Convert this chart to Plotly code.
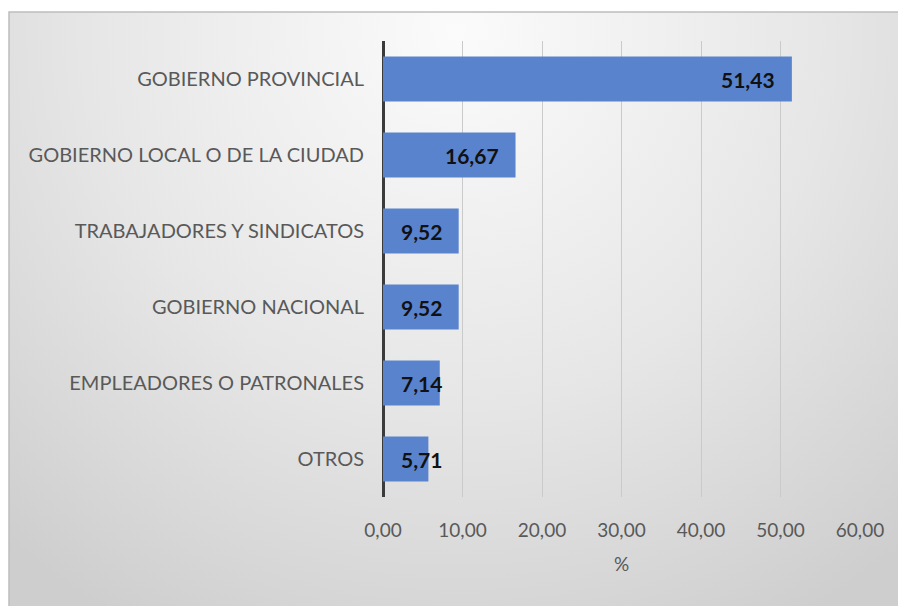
import base64
import plotly.graph_objects as go

categories = [
    "GOBIERNO PROVINCIAL",
    "GOBIERNO LOCAL O DE LA CIUDAD",
    "TRABAJADORES Y SINDICATOS",
    "GOBIERNO NACIONAL",
    "EMPLEADORES O PATRONALES",
    "OTROS",
]
values = [51.43, 16.67, 9.52, 9.52, 7.14, 5.71]
x_ticks = [0, 10, 20, 30, 40, 50, 60]
x_title = "%"

# page body has an 8px margin, so the figure is drawn 8px in from the window corner
W, H = 898, 598
L, R, T, B = 375, 46, 33, 109
pw, ph = W - L - R, H - T - B
# chart box (outer frame) in figure pixels
bx0, by0, bx1, by1 = 1, 4, 898, 598

svg = f'''<svg xmlns="http://www.w3.org/2000/svg" width="{bx1-bx0}" height="{by1-by0}" preserveAspectRatio="none">
<defs><radialGradient id="g" gradientUnits="userSpaceOnUse" cx="{(bx1-bx0)/2}" cy="20" r="680">
<stop offset="0" stop-color="#fbfbfb"/><stop offset="0.55" stop-color="#e6e6e6"/><stop offset="1" stop-color="#cecece"/></radialGradient></defs>
<rect width="100%" height="100%" fill="url(#g)"/></svg>'''
src = "data:image/svg+xml;base64," + base64.b64encode(svg.encode()).decode()

def px_to_paper_x(px):
    return (px - L) / pw

def px_to_paper_y(py):
    return (H - B - py) / ph

fig = go.Figure()
fig.add_trace(go.Bar(
    y=categories, x=values, orientation="h",
    marker=dict(color="#5a83cd", line=dict(width=0)),
    hoverinfo="x+y",
))

label_font = dict(family="Lato", size=21, color="#111111", weight="bold")
annotations = []
for c, v in zip(categories, values):
    label = f"{v:.2f}".replace(".", ",")
    if v >= 9:
        annotations.append(dict(x=v, y=c, xref="x", yref="y", text=label, showarrow=False,
                                xanchor="right", xshift=-15, yanchor="middle", font=label_font))
    else:
        annotations.append(dict(x=0, y=c, xref="x", yref="y", text=label, showarrow=False,
                                xanchor="left", xshift=16, yanchor="middle", font=label_font))

fig.update_layout(
    width=W, height=H,
    margin=dict(l=L, r=R, t=T, b=B),
    paper_bgcolor="white",
    plot_bgcolor="rgba(0,0,0,0)",
    separators=",.",
    bargap=0.41,
    showlegend=False,
    font=dict(family="Lato", color="#595959"),
    annotations=annotations,
    images=[dict(source=src, xref="paper", yref="paper",
                 x=px_to_paper_x(bx0), y=px_to_paper_y(by0),
                 sizex=(bx1 - bx0) / pw, sizey=(by1 - by0) / ph,
                 xanchor="left", yanchor="top", sizing="stretch", layer="below")],
    shapes=[dict(type="rect", xref="paper", yref="paper",
                 x0=px_to_paper_x(bx0), x1=px_to_paper_x(bx1 + 2),
                 y0=px_to_paper_y(by1 + 2), y1=px_to_paper_y(by0),
                 line=dict(color="#bdbdbd", width=1.5), fillcolor="rgba(0,0,0,0)", layer="below")],
    xaxis=dict(
        range=[0, 60], tickvals=x_ticks, tickformat=".2f",
        showgrid=True, gridcolor="#cacaca", gridwidth=1.3,
        zeroline=True, zerolinecolor="#3b3b3b", zerolinewidth=3,
        showline=False, ticks="", ticklabelstandoff=20,
        tickfont=dict(family="Lato", size=19, color="#595959"),
        title=dict(text=x_title, font=dict(family="Lato", size=19, color="#595959"), standoff=17),
        fixedrange=True,
    ),
    yaxis=dict(
        autorange="reversed", showgrid=False, showline=False, ticks="",
        ticklabelstandoff=18,
        tickfont=dict(family="Lato", size=20, color="#595959"),
        fixedrange=True,
    ),
)

fig.write_html("out.html")
